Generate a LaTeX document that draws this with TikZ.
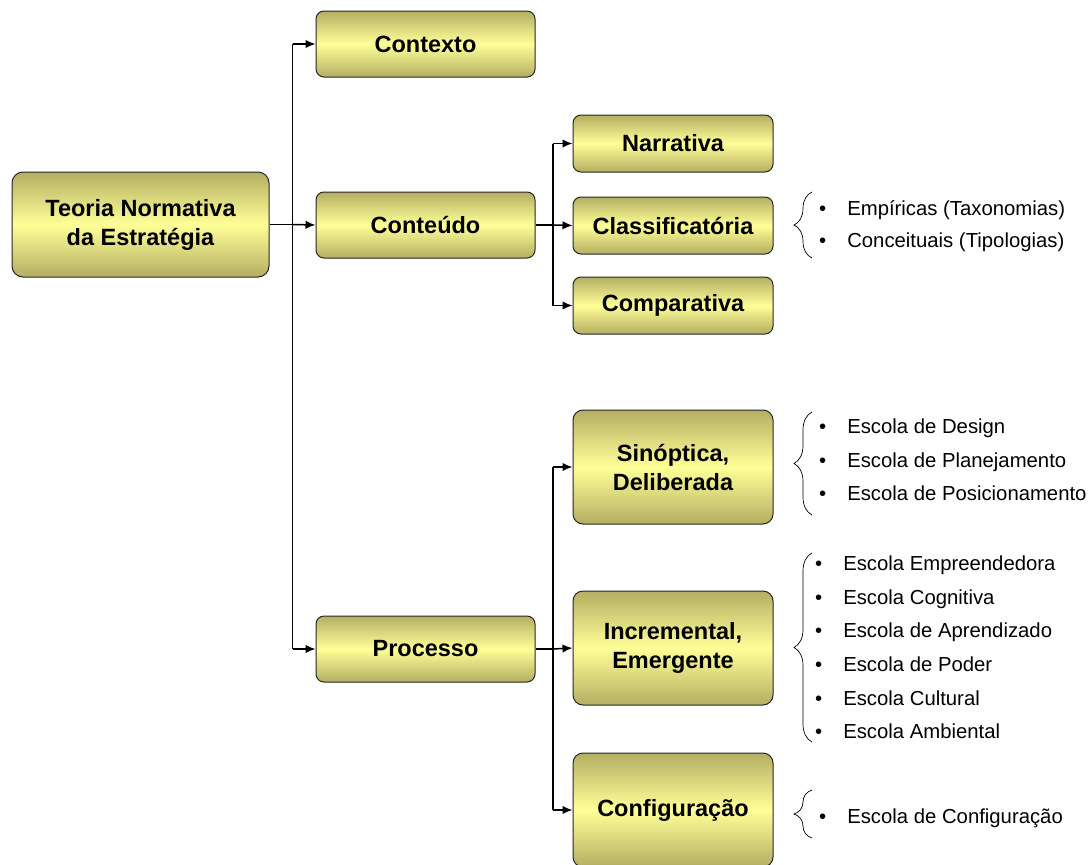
\documentclass[tikz,border=0pt]{standalone}
\usepackage{fontspec}
\setmainfont{Liberation Sans}
\usetikzlibrary{arrows.meta,decorations.pathreplacing}
\definecolor{olivetop}{RGB}{180,174,98}
\definecolor{olivemid}{RGB}{255,255,152}
\tikzset{
  box/.style={draw=black!85, line width=1pt, rounded corners=8pt,
    top color=olivetop, bottom color=olivetop, middle color=olivemid,
    align=center, inner sep=0pt, font=\fontsize{23.5}{29}\selectfont\bfseries},
  link/.style={line width=1.5pt, -{Latex[length=10pt,width=8.5pt]}},
  trunk/.style={line width=1.5pt},
  item/.style={anchor=west, inner sep=0pt, text height=14pt, text depth=4pt,
    font=\fontsize{20.3}{24}\selectfont},
  curly/.style={decorate, decoration={brace, amplitude=18pt}, line width=0.7pt}
}
\begin{document}
\begin{tikzpicture}[x=1pt,y=-1pt]
\useasboundingbox (0,0) rectangle (1088,865);

% main boxes
\node[box, minimum width=257pt, minimum height=105pt, rounded corners=11pt] (teoria) at (140.5,224.5) {Teoria Normativa\\da Estratégia};
\node[box, minimum width=219pt, minimum height=66pt] (contexto) at (425.5,44) {Contexto};
\node[box, minimum width=219pt, minimum height=66pt] (conteudo) at (425.5,225) {Conteúdo};
\node[box, minimum width=219pt, minimum height=66pt] (processo) at (425.5,649) {Processo};

\node[box, minimum width=200pt, minimum height=57pt] (narrativa) at (673,143.5) {Narrativa};
\node[box, minimum width=200pt, minimum height=57pt] (classif) at (673,225.5) {Classificatória};
\node[box, minimum width=200pt, minimum height=57pt] (compar) at (673,305.5) {Comparativa};

\node[box, minimum width=200pt, minimum height=114pt, rounded corners=10pt] (sinoptica) at (673,467) {Sinóptica,\\Deliberada};
\node[box, minimum width=200pt, minimum height=114pt, rounded corners=10pt] (increm) at (673,648) {Incremental,\\Emergente};
\node[box, minimum width=200pt, minimum height=114pt, rounded corners=10pt] (config) at (673,810) {Configuração};

% junction points
\coordinate (j1) at (292.5,224.5);
\coordinate (j2) at (553,225);
\coordinate (j3) at (553,649);

% first level
\draw[trunk] (teoria.east) -- (j1);
\draw[trunk] (j1 |- contexto.west) -- (j1 |- processo.west);
\draw[link] (j1 |- contexto.west) -- (contexto.west);
\draw[link] (j1) -- (conteudo.west);
\draw[link] (j1 |- processo.west) -- (processo.west);

% content branch
\draw[trunk] (conteudo.east) -- (j2);
\draw[trunk] (j2 |- narrativa.west) -- (j2 |- compar.west);
\draw[link] (j2 |- narrativa.west) -- (narrativa.west);
\draw[link] (j2) -- (classif.west);
\draw[link] (j2 |- compar.west) -- (compar.west);

% process branch
\draw[trunk] (processo.east) -- (j3);
\draw[trunk] (j3 |- sinoptica.west) -- (j3 |- config.west);
\draw[link] (j3 |- sinoptica.west) -- (sinoptica.west);
\draw[link] (j3) -- (increm.west);
\draw[link] (j3 |- config.west) -- (config.west);

% braces
\draw[curly] (812,258) -- (812,192);
\draw[curly] (812,515) -- (812,412);
\draw[curly] (812,742) -- (812,553);
\draw[curly] (812,838) -- (812,790);

% lists
\node[item] (c1) at (819,210) {•\hspace{21pt}Empíricas (Taxonomias)};
\node[item] (c2) at (819,242) {•\hspace{21pt}Conceituais (Tipologias)};

\node[item] (s1) at (819,428) {•\hspace{21pt}Escola de Design};
\node[item] (s2) at (819,462) {•\hspace{21pt}Escola de Planejamento};
\node[item] (s3) at (819,495) {•\hspace{21pt}Escola de Posicionamento};

\node[item] (e1) at (815,565) {•\hspace{21pt}Escola Empreendedora};
\node[item] (e2) at (815,599) {•\hspace{21pt}Escola Cognitiva};
\node[item] (e3) at (815,632) {•\hspace{21pt}Escola de Aprendizado};
\node[item] (e4) at (815,666) {•\hspace{21pt}Escola de Poder};
\node[item] (e5) at (815,700) {•\hspace{21pt}Escola Cultural};
\node[item] (e6) at (815,733) {•\hspace{21pt}Escola Ambiental};

\node[item] (g1) at (819,818) {•\hspace{21pt}Escola de Configuração};
\end{tikzpicture}
\end{document}
